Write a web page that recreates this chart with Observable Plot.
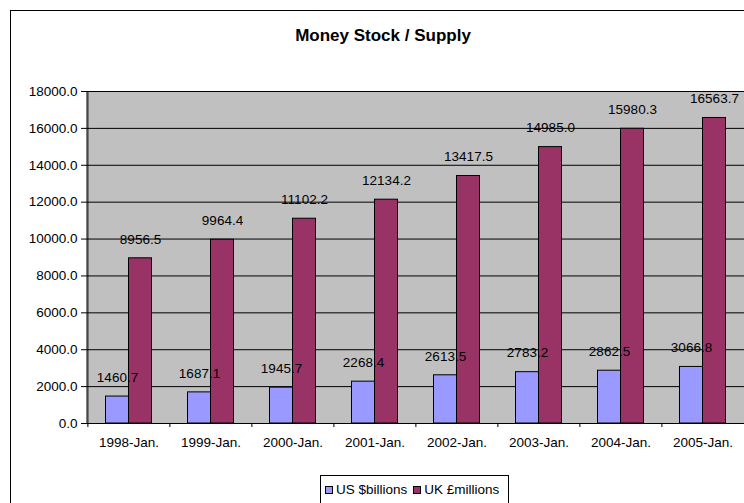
<!DOCTYPE html>
<html><head><meta charset="utf-8">
<script src="https://cdn.jsdelivr.net/npm/d3@7"></script>
<script src="https://cdn.jsdelivr.net/npm/@observablehq/plot@0.6"></script>
<style>
html,body{margin:0;padding:0;overflow:hidden;background:#fff;width:744px;height:503px;}
body{position:relative;font-family:"Liberation Sans",Arial,sans-serif;color:#000;}
#frame{position:absolute;left:10px;top:10px;width:760px;height:520px;border:1px solid #000;box-sizing:border-box;}
#title{position:absolute;left:10px;width:746px;top:26px;text-align:center;font-weight:bold;font-size:17px;line-height:20px;}
#chart{position:absolute;left:0;top:0;}
#legend{position:absolute;left:320px;top:475px;width:189px;height:40px;border:1px solid #000;box-sizing:border-box;background:#fff;display:flex;align-items:flex-start;padding:6px 0 0 4px;font-size:13.5px;line-height:16px;}
#legend .item{display:flex;align-items:center;margin-right:6px;}
#legend .sw{width:6px;height:6px;border:1px solid #000;margin-right:3px;}
</style></head>
<body>
<div id="frame"></div>
<div id="title"></div>
<div id="chart"></div>
<div id="legend"></div>
<script>
const titleText = "Money Stock / Supply";
const years = ["1998-Jan.", "1999-Jan.", "2000-Jan.", "2001-Jan.", "2002-Jan.", "2003-Jan.", "2004-Jan.", "2005-Jan."];
const usValues = [1460.7, 1687.1, 1945.7, 2268.4, 2613.5, 2783.2, 2862.5, 3066.8];
const ukValues = [8956.5, 9964.4, 11102.2, 12134.2, 13417.5, 14985.0, 15980.3, 16563.7];
const seriesNames = ["US $billions", "UK £millions"];
const seriesColors = ["#9999FF", "#993366"];
const yTicks = [0, 2000, 4000, 6000, 8000, 10000, 12000, 14000, 16000, 18000];

document.getElementById("title").textContent = titleText;

const usData = years.map((year, i) => ({year, value: usValues[i]}));
const ukData = years.map((year, i) => ({year, value: ukValues[i]}));

const W = 744, H = 463, mL = 86, mR = 0, mT = 91, mB = 40;
const step = (W - mL - mR) / years.length;
const barW = 23;
const pInner = 1 - barW / step;
const fmt = d3.format(".1f");
const fs = 13.5;

const chart = Plot.plot({
  width: W, height: H,
  marginLeft: mL, marginRight: mR, marginTop: mT, marginBottom: mB,
  style: {fontFamily: '"Liberation Sans", Arial, sans-serif', fontSize: fs + "px", color: "#000", background: "transparent", overflow: "visible"},
  x: {domain: years, paddingInner: pInner, paddingOuter: pInner / 2, label: null},
  y: {domain: [0, 18000], label: null},
  marks: [
    Plot.frame({fill: "#C0C0C0", stroke: "#808080"}),
    Plot.ruleY(yTicks.slice(1), {stroke: "#000"}),
    Plot.barY(usData, {x: "year", y: "value", dx: -barW / 2, fill: seriesColors[0], stroke: "#000", strokeWidth: 1}),
    Plot.barY(ukData, {x: "year", y: "value", dx: barW / 2, fill: seriesColors[1], stroke: "#000", strokeWidth: 1}),
    Plot.ruleY([0], {stroke: "#000"}),
    Plot.ruleX([years[0]], {dx: -step / 2, stroke: "#000"}),
    Plot.ruleX(years, {x: d => d, y1: 0, y2: 0, dx: -step / 2, insetBottom: -4, stroke: "#000"}),
    Plot.axisY({ticks: yTicks, tickFormat: fmt, tickSize: 5, tickPadding: 4, fontSize: fs, label: null}),
    Plot.axisX({tickSize: 0, tickPadding: 14, fontSize: fs, label: null}),
    Plot.text(usData, {x: "year", y: "value", text: d => fmt(d.value), dx: -barW / 2, dy: -19, fontSize: fs, fill: "#000"}),
    Plot.text(ukData, {x: "year", y: "value", text: d => fmt(d.value), dx: barW / 2, dy: -19, fontSize: fs, fill: "#000"})
  ]
});
document.getElementById("chart").appendChild(chart);

const legend = document.getElementById("legend");
seriesNames.forEach((name, i) => {
  const item = document.createElement("div");
  item.className = "item";
  const sw = document.createElement("div");
  sw.className = "sw";
  sw.style.background = seriesColors[i];
  const label = document.createElement("span");
  label.textContent = name;
  item.appendChild(sw);
  item.appendChild(label);
  legend.appendChild(item);
});
</script>
</body></html>
